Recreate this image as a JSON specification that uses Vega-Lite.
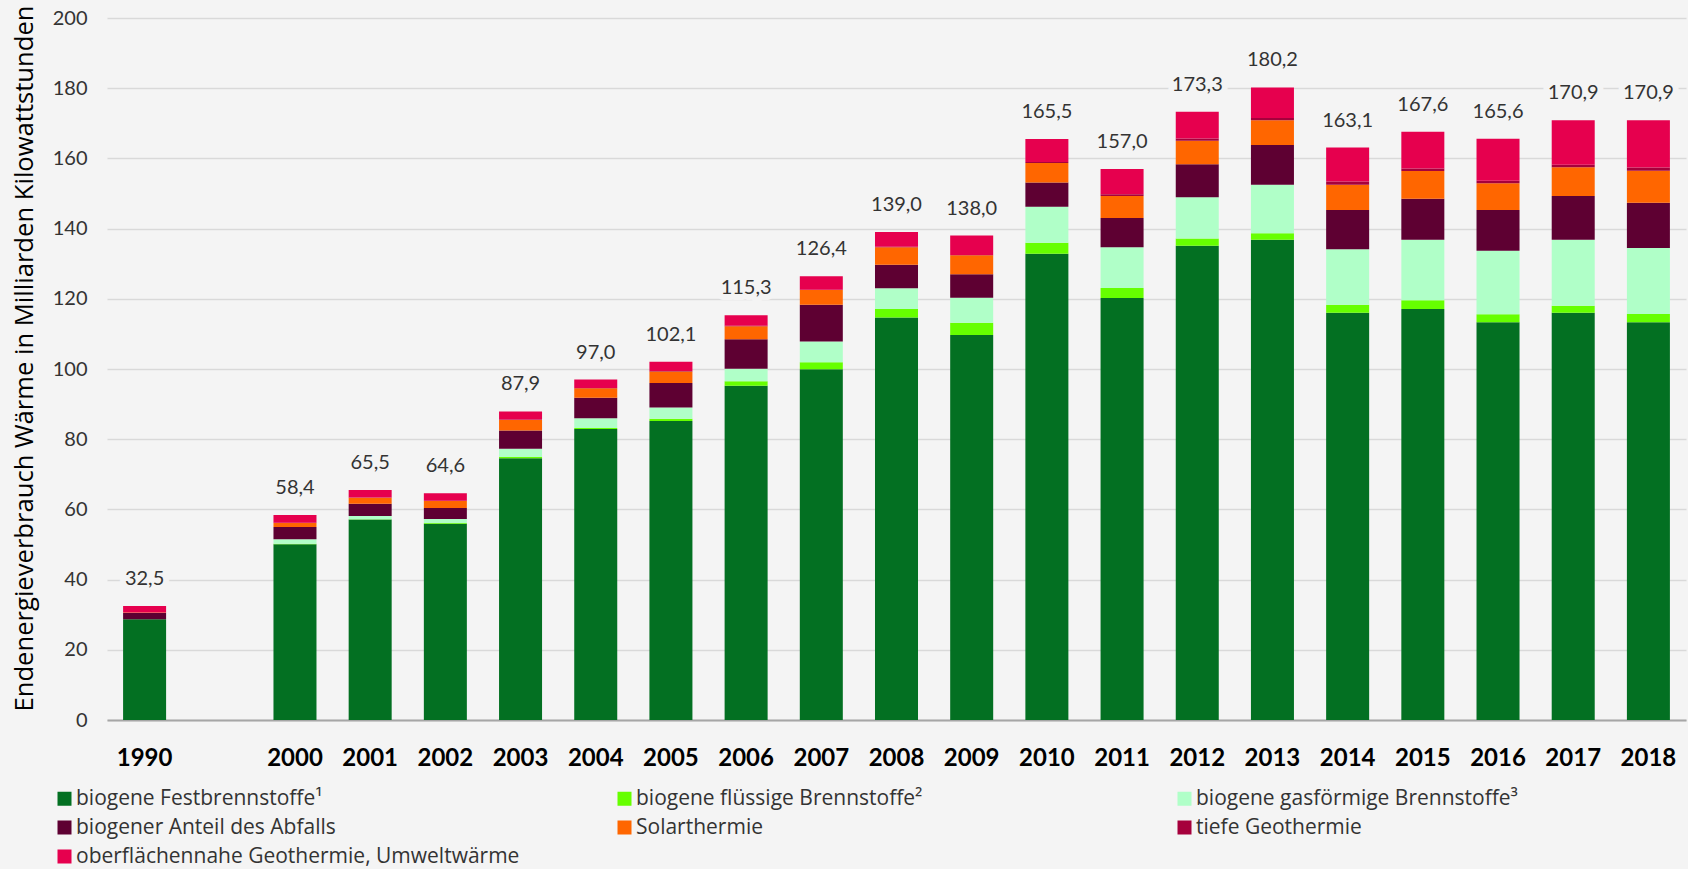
{
  "$schema": "https://vega.github.io/schema/vega-lite/v6.json",
  "width": 1579,
  "height": 702,
  "autosize": {"type": "none"},
  "padding": {"left": 107, "top": 18, "right": 2, "bottom": 149},
  "background": "#F4F4F4",
  "config": {
    "view": {"stroke": null},
    "font": "Lato",
    "locale": {"number": {"decimal": ",", "thousands": ".", "grouping": [3], "currency": ["", " €"]}}
  },
  "datasets": {
    "types": [
      {"type":"biogene Festbrennstoffe¹","rank":1},
      {"type":"biogene flüssige Brennstoffe²","rank":2},
      {"type":"biogene gasförmige Brennstoffe³","rank":3},
      {"type":"biogener Anteil des Abfalls","rank":4},
      {"type":"Solarthermie","rank":5},
      {"type":"tiefe Geothermie","rank":6},
      {"type":"oberflächennahe Geothermie, Umweltwärme","rank":7}
    ],
    "seg": [
      {"year":"1990","type":"biogene Festbrennstoffe¹","value":28.7},
      {"year":"1990","type":"biogene flüssige Brennstoffe²","value":0.0},
      {"year":"1990","type":"biogene gasförmige Brennstoffe³","value":0.0},
      {"year":"1990","type":"biogener Anteil des Abfalls","value":1.8},
      {"year":"1990","type":"Solarthermie","value":0.1},
      {"year":"1990","type":"tiefe Geothermie","value":0.0},
      {"year":"1990","type":"oberflächennahe Geothermie, Umweltwärme","value":1.9},
      {"year":"2000","type":"biogene Festbrennstoffe¹","value":50.1},
      {"year":"2000","type":"biogene flüssige Brennstoffe²","value":0.1},
      {"year":"2000","type":"biogene gasförmige Brennstoffe³","value":1.3},
      {"year":"2000","type":"biogener Anteil des Abfalls","value":3.5},
      {"year":"2000","type":"Solarthermie","value":1.1},
      {"year":"2000","type":"tiefe Geothermie","value":0.1},
      {"year":"2000","type":"oberflächennahe Geothermie, Umweltwärme","value":2.2},
      {"year":"2001","type":"biogene Festbrennstoffe¹","value":57.1},
      {"year":"2001","type":"biogene flüssige Brennstoffe²","value":0.1},
      {"year":"2001","type":"biogene gasförmige Brennstoffe³","value":0.9},
      {"year":"2001","type":"biogener Anteil des Abfalls","value":3.5},
      {"year":"2001","type":"Solarthermie","value":1.7},
      {"year":"2001","type":"tiefe Geothermie","value":0.1},
      {"year":"2001","type":"oberflächennahe Geothermie, Umweltwärme","value":2.1},
      {"year":"2002","type":"biogene Festbrennstoffe¹","value":55.9},
      {"year":"2002","type":"biogene flüssige Brennstoffe²","value":0.2},
      {"year":"2002","type":"biogene gasförmige Brennstoffe³","value":1.2},
      {"year":"2002","type":"biogener Anteil des Abfalls","value":3.1},
      {"year":"2002","type":"Solarthermie","value":2.0},
      {"year":"2002","type":"tiefe Geothermie","value":0.1},
      {"year":"2002","type":"oberflächennahe Geothermie, Umweltwärme","value":2.1},
      {"year":"2003","type":"biogene Festbrennstoffe¹","value":74.6},
      {"year":"2003","type":"biogene flüssige Brennstoffe²","value":0.3},
      {"year":"2003","type":"biogene gasförmige Brennstoffe³","value":2.4},
      {"year":"2003","type":"biogener Anteil des Abfalls","value":5.2},
      {"year":"2003","type":"Solarthermie","value":3.0},
      {"year":"2003","type":"tiefe Geothermie","value":0.1},
      {"year":"2003","type":"oberflächennahe Geothermie, Umweltwärme","value":2.3},
      {"year":"2004","type":"biogene Festbrennstoffe¹","value":82.9},
      {"year":"2004","type":"biogene flüssige Brennstoffe²","value":0.3},
      {"year":"2004","type":"biogene gasförmige Brennstoffe³","value":2.8},
      {"year":"2004","type":"biogener Anteil des Abfalls","value":5.8},
      {"year":"2004","type":"Solarthermie","value":2.7},
      {"year":"2004","type":"tiefe Geothermie","value":0.1},
      {"year":"2004","type":"oberflächennahe Geothermie, Umweltwärme","value":2.4},
      {"year":"2005","type":"biogene Festbrennstoffe¹","value":85.2},
      {"year":"2005","type":"biogene flüssige Brennstoffe²","value":0.6},
      {"year":"2005","type":"biogene gasförmige Brennstoffe³","value":3.2},
      {"year":"2005","type":"biogener Anteil des Abfalls","value":7.0},
      {"year":"2005","type":"Solarthermie","value":3.3},
      {"year":"2005","type":"tiefe Geothermie","value":0.1},
      {"year":"2005","type":"oberflächennahe Geothermie, Umweltwärme","value":2.7},
      {"year":"2006","type":"biogene Festbrennstoffe¹","value":95.2},
      {"year":"2006","type":"biogene flüssige Brennstoffe²","value":1.3},
      {"year":"2006","type":"biogene gasförmige Brennstoffe³","value":3.6},
      {"year":"2006","type":"biogener Anteil des Abfalls","value":8.4},
      {"year":"2006","type":"Solarthermie","value":3.7},
      {"year":"2006","type":"tiefe Geothermie","value":0.1},
      {"year":"2006","type":"oberflächennahe Geothermie, Umweltwärme","value":3.0},
      {"year":"2007","type":"biogene Festbrennstoffe¹","value":99.9},
      {"year":"2007","type":"biogene flüssige Brennstoffe²","value":2.0},
      {"year":"2007","type":"biogene gasförmige Brennstoffe³","value":5.9},
      {"year":"2007","type":"biogener Anteil des Abfalls","value":10.5},
      {"year":"2007","type":"Solarthermie","value":4.2},
      {"year":"2007","type":"tiefe Geothermie","value":0.1},
      {"year":"2007","type":"oberflächennahe Geothermie, Umweltwärme","value":3.8},
      {"year":"2008","type":"biogene Festbrennstoffe¹","value":114.7},
      {"year":"2008","type":"biogene flüssige Brennstoffe²","value":2.4},
      {"year":"2008","type":"biogene gasförmige Brennstoffe³","value":5.9},
      {"year":"2008","type":"biogener Anteil des Abfalls","value":6.7},
      {"year":"2008","type":"Solarthermie","value":5.0},
      {"year":"2008","type":"tiefe Geothermie","value":0.1},
      {"year":"2008","type":"oberflächennahe Geothermie, Umweltwärme","value":4.2},
      {"year":"2009","type":"biogene Festbrennstoffe¹","value":109.7},
      {"year":"2009","type":"biogene flüssige Brennstoffe²","value":3.5},
      {"year":"2009","type":"biogene gasförmige Brennstoffe³","value":7.1},
      {"year":"2009","type":"biogener Anteil des Abfalls","value":6.7},
      {"year":"2009","type":"Solarthermie","value":5.4},
      {"year":"2009","type":"tiefe Geothermie","value":0.1},
      {"year":"2009","type":"oberflächennahe Geothermie, Umweltwärme","value":5.5},
      {"year":"2010","type":"biogene Festbrennstoffe¹","value":132.8},
      {"year":"2010","type":"biogene flüssige Brennstoffe²","value":3.2},
      {"year":"2010","type":"biogene gasförmige Brennstoffe³","value":10.2},
      {"year":"2010","type":"biogener Anteil des Abfalls","value":6.9},
      {"year":"2010","type":"Solarthermie","value":5.6},
      {"year":"2010","type":"tiefe Geothermie","value":0.3},
      {"year":"2010","type":"oberflächennahe Geothermie, Umweltwärme","value":6.5},
      {"year":"2011","type":"biogene Festbrennstoffe¹","value":120.2},
      {"year":"2011","type":"biogene flüssige Brennstoffe²","value":2.9},
      {"year":"2011","type":"biogene gasförmige Brennstoffe³","value":11.6},
      {"year":"2011","type":"biogener Anteil des Abfalls","value":8.3},
      {"year":"2011","type":"Solarthermie","value":6.3},
      {"year":"2011","type":"tiefe Geothermie","value":0.5},
      {"year":"2011","type":"oberflächennahe Geothermie, Umweltwärme","value":7.2},
      {"year":"2012","type":"biogene Festbrennstoffe¹","value":135.1},
      {"year":"2012","type":"biogene flüssige Brennstoffe²","value":2.1},
      {"year":"2012","type":"biogene gasförmige Brennstoffe³","value":11.7},
      {"year":"2012","type":"biogener Anteil des Abfalls","value":9.4},
      {"year":"2012","type":"Solarthermie","value":6.7},
      {"year":"2012","type":"tiefe Geothermie","value":0.7},
      {"year":"2012","type":"oberflächennahe Geothermie, Umweltwärme","value":7.6},
      {"year":"2013","type":"biogene Festbrennstoffe¹","value":136.8},
      {"year":"2013","type":"biogene flüssige Brennstoffe²","value":1.9},
      {"year":"2013","type":"biogene gasförmige Brennstoffe³","value":13.8},
      {"year":"2013","type":"biogener Anteil des Abfalls","value":11.3},
      {"year":"2013","type":"Solarthermie","value":7.1},
      {"year":"2013","type":"tiefe Geothermie","value":0.6},
      {"year":"2013","type":"oberflächennahe Geothermie, Umweltwärme","value":8.7},
      {"year":"2014","type":"biogene Festbrennstoffe¹","value":116.0},
      {"year":"2014","type":"biogene flüssige Brennstoffe²","value":2.3},
      {"year":"2014","type":"biogene gasförmige Brennstoffe³","value":15.8},
      {"year":"2014","type":"biogener Anteil des Abfalls","value":11.2},
      {"year":"2014","type":"Solarthermie","value":7.2},
      {"year":"2014","type":"tiefe Geothermie","value":0.9},
      {"year":"2014","type":"oberflächennahe Geothermie, Umweltwärme","value":9.7},
      {"year":"2015","type":"biogene Festbrennstoffe¹","value":117.1},
      {"year":"2015","type":"biogene flüssige Brennstoffe²","value":2.5},
      {"year":"2015","type":"biogene gasförmige Brennstoffe³","value":17.2},
      {"year":"2015","type":"biogener Anteil des Abfalls","value":11.7},
      {"year":"2015","type":"Solarthermie","value":7.9},
      {"year":"2015","type":"tiefe Geothermie","value":0.7},
      {"year":"2015","type":"oberflächennahe Geothermie, Umweltwärme","value":10.5},
      {"year":"2016","type":"biogene Festbrennstoffe¹","value":113.3},
      {"year":"2016","type":"biogene flüssige Brennstoffe²","value":2.3},
      {"year":"2016","type":"biogene gasförmige Brennstoffe³","value":18.1},
      {"year":"2016","type":"biogener Anteil des Abfalls","value":11.6},
      {"year":"2016","type":"Solarthermie","value":7.6},
      {"year":"2016","type":"tiefe Geothermie","value":0.7},
      {"year":"2016","type":"oberflächennahe Geothermie, Umweltwärme","value":12.0},
      {"year":"2017","type":"biogene Festbrennstoffe¹","value":116.0},
      {"year":"2017","type":"biogene flüssige Brennstoffe²","value":2.0},
      {"year":"2017","type":"biogene gasförmige Brennstoffe³","value":18.8},
      {"year":"2017","type":"biogener Anteil des Abfalls","value":12.5},
      {"year":"2017","type":"Solarthermie","value":8.2},
      {"year":"2017","type":"tiefe Geothermie","value":0.7},
      {"year":"2017","type":"oberflächennahe Geothermie, Umweltwärme","value":12.7},
      {"year":"2018","type":"biogene Festbrennstoffe¹","value":113.3},
      {"year":"2018","type":"biogene flüssige Brennstoffe²","value":2.4},
      {"year":"2018","type":"biogene gasförmige Brennstoffe³","value":18.8},
      {"year":"2018","type":"biogener Anteil des Abfalls","value":12.9},
      {"year":"2018","type":"Solarthermie","value":9.1},
      {"year":"2018","type":"tiefe Geothermie","value":0.9},
      {"year":"2018","type":"oberflächennahe Geothermie, Umweltwärme","value":13.5}
    ],
    "tot": [
      {"year":"1990","total":32.5},{"year":"2000","total":58.4},{"year":"2001","total":65.5},
      {"year":"2002","total":64.6},{"year":"2003","total":87.9},{"year":"2004","total":97.0},
      {"year":"2005","total":102.1},{"year":"2006","total":115.3},{"year":"2007","total":126.4},
      {"year":"2008","total":139.0},{"year":"2009","total":138.0},{"year":"2010","total":165.5},
      {"year":"2011","total":157.0},{"year":"2012","total":173.3},{"year":"2013","total":180.2},
      {"year":"2014","total":163.1},{"year":"2015","total":167.6},{"year":"2016","total":165.6},
      {"year":"2017","total":170.9},{"year":"2018","total":170.9}
    ]
  },
  "layer": [
    {
      "data": {"name": "seg"},
      "transform": [
        {"lookup": "type", "from": {"data": {"name": "types"}, "key": "type", "fields": ["rank"]}}
      ],
      "mark": {"type": "bar"},
      "encoding": {
        "x": {
          "field": "year", "type": "nominal",
          "scale": {"domain": ["1990"," ","2000","2001","2002","2003","2004","2005","2006","2007","2008","2009","2010","2011","2012","2013","2014","2015","2016","2017","2018"], "paddingInner": 0.428, "paddingOuter": 0.214},
          "axis": {"title": null, "labelAngle": 0, "labelFontSize": 24, "labelFontWeight": "bold", "labelColor": "#000000", "labelPadding": 26, "ticks": false, "domainColor": "#A6A6A6", "domainWidth": 2, "grid": false}
        },
        "y": {
          "field": "value", "type": "quantitative", "stack": "zero",
          "scale": {"domain": [0, 200]},
          "axis": {
            "title": "Endenergieverbrauch Wärme in Milliarden Kilowattstunden",
            "titleFont": "Open Sans", "titleFontSize": 25.6, "titleFontWeight": "normal", "titleColor": "#000000",
            "titleX": -83, "titleY": 340, "titleAngle": 270, "titleAlign": "center", "titleBaseline": "middle",
            "values": [0,20,40,60,80,100,120,140,160,180,200],
            "labelFontSize": 20, "labelColor": "#333333", "labelPadding": 20,
            "ticks": false, "domain": false,
            "gridColor": "#D9D9D9", "gridWidth": 1.5
          }
        },
        "order": {"field": "rank", "type": "quantitative", "sort": "ascending"},
        "color": {
          "field": "type", "type": "nominal",
          "sort": ["biogene Festbrennstoffe¹","biogene flüssige Brennstoffe²","biogene gasförmige Brennstoffe³","biogener Anteil des Abfalls","Solarthermie","tiefe Geothermie","oberflächennahe Geothermie, Umweltwärme"],
          "scale": {
            "domain": ["biogene Festbrennstoffe¹","biogene flüssige Brennstoffe²","biogene gasförmige Brennstoffe³","biogener Anteil des Abfalls","Solarthermie","tiefe Geothermie","oberflächennahe Geothermie, Umweltwärme"],
            "range": ["#037022","#66FF00","#B0FFC8","#5E0032","#FF6600","#A6003C","#E6004E"]
          },
          "legend": {
            "title": null, "orient": "none", "legendX": -53, "legendY": 770,
            "direction": "horizontal", "columns": 3, "gridAlign": "all",
            "symbolType": "square", "symbolSize": 196, "symbolStrokeWidth": 0,
            "labelFont": "Open Sans", "labelFontSize": 21, "labelColor": "#333333", "labelLimit": 700, "labelOffset": 1,
            "columnPadding": 94, "rowPadding": 7
          }
        }
      }
    },
    {
      "data": {"name": "tot"},
      "mark": {"type": "text", "dy": -21, "baseline": "alphabetic", "fontSize": 20, "stroke": "#F4F4F4", "strokeWidth": 12, "strokeJoin": "round", "fill": "#F4F4F4"},
      "encoding": {
        "x": {"field": "year", "type": "nominal", "scale": {"domain": ["1990"," ","2000","2001","2002","2003","2004","2005","2006","2007","2008","2009","2010","2011","2012","2013","2014","2015","2016","2017","2018"]}},
        "y": {"field": "total", "type": "quantitative"},
        "text": {"field": "total", "type": "quantitative", "format": ".1f"}
      }
    },
    {
      "data": {"name": "tot"},
      "mark": {"type": "text", "dy": -21, "baseline": "alphabetic", "fontSize": 20, "color": "#333333"},
      "encoding": {
        "x": {"field": "year", "type": "nominal", "scale": {"domain": ["1990"," ","2000","2001","2002","2003","2004","2005","2006","2007","2008","2009","2010","2011","2012","2013","2014","2015","2016","2017","2018"]}},
        "y": {"field": "total", "type": "quantitative"},
        "text": {"field": "total", "type": "quantitative", "format": ".1f"}
      }
    }
  ]
}
